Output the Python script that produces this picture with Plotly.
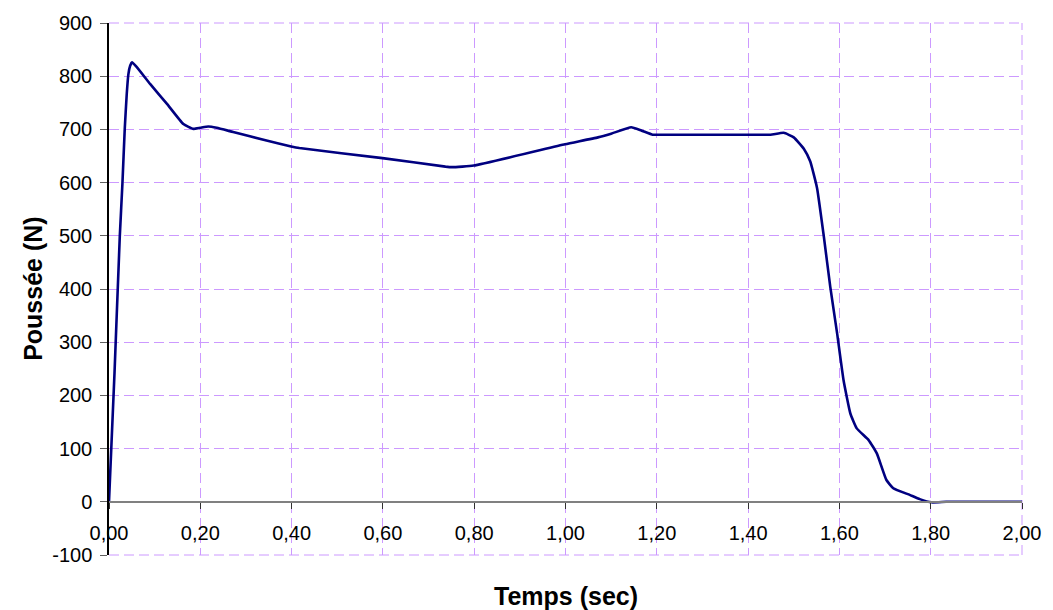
import plotly.graph_objects as go

# Data
temps = [0.000, 0.012, 0.0236, 0.0294, 0.0345, 0.0389, 0.0425, 0.0465, 0.0505, 0.060,
         0.0905, 0.127, 0.163, 0.185, 0.200, 0.2175, 0.236, 0.272, 0.345, 0.399,
         0.417, 0.599, 0.737, 0.752, 0.799, 0.999, 1.071, 1.100, 1.144, 1.166,
         1.191, 1.202, 1.300, 1.400, 1.449, 1.478, 1.500, 1.522, 1.536, 1.551,
         1.566, 1.580, 1.595, 1.609, 1.624, 1.638, 1.664, 1.682, 1.703, 1.718,
         1.754, 1.776, 1.802, 1.834, 1.900, 2.000]
poussee = [0, 241, 498, 598, 701, 767, 804, 820, 826, 818,
           785, 748, 710, 701, 703, 705.5, 703, 695, 679, 668,
           665, 646, 630, 629, 632, 672, 685, 692, 704, 698,
           690, 690, 690, 690, 690, 693.6, 685, 663.6, 640, 590,
           498, 404, 316.5, 229, 166, 138, 116, 91, 41, 25.6,
           13, 5, -1, 0, 0, 0]

x_tickvals = [0.0, 0.2, 0.4, 0.6, 0.8, 1.0, 1.2, 1.4, 1.6, 1.8, 2.0]
x_ticktext = ["0,00", "0,20", "0,40", "0,60", "0,80", "1,00", "1,20", "1,40", "1,60", "1,80", "2,00"]
y_tickvals = [-100, 0, 100, 200, 300, 400, 500, 600, 700, 800, 900]
y_ticktext = ["-100", "0", "100", "200", "300", "400", "500", "600", "700", "800", "900"]

x_title = "Temps (sec)"
y_title = "Poussée (N)"

FONT = "Arial, 'Liberation Sans', sans-serif"
GRID = "#CC99FF"
GRID_DASH = "10px,5px"

fig = go.Figure()
fig.add_trace(go.Scatter(
    x=temps, y=poussee, mode="lines",
    line=dict(color="#000080", width=2.6, shape="spline", smoothing=0.4),
    hoverinfo="skip", showlegend=False,
))

# dashed frame lines at top, bottom and right edge of the plot area (edge gridlines)
edge_line = dict(color=GRID, width=1, dash=GRID_DASH)
fig.add_shape(type="line", xref="x domain", yref="y domain", x0=0, x1=1, y0=1, y1=1,
              line=edge_line, layer="below")
fig.add_shape(type="line", xref="x domain", yref="y domain", x0=0, x1=1, y0=0, y1=0,
              line=edge_line, layer="below")
fig.add_shape(type="line", xref="x domain", yref="y domain", x0=1, x1=1, y0=0, y1=1,
              line=edge_line, layer="below")

fig.update_layout(
    width=1053, height=610,
    margin=dict(l=109, r=27, t=22, b=55),
    paper_bgcolor="white", plot_bgcolor="white",
    font=dict(family=FONT, size=20, color="black"),
    showlegend=False,
    xaxis=dict(
        range=[0, 2], tickvals=x_tickvals, ticktext=x_ticktext,
        anchor="free", position=0.1,
        showline=True, linecolor="#808080", linewidth=1.5,
        ticks="outside", ticklen=6, tickcolor="#303030", tickwidth=1,
        showgrid=True, gridcolor=GRID, griddash=GRID_DASH, gridwidth=1,
        zeroline=False, ticklabelstandoff=7,
        tickfont=dict(family=FONT, size=20, color="black"),
    ),
    yaxis=dict(
        range=[-100, 900], tickvals=y_tickvals, ticktext=y_ticktext,
        showline=True, linecolor="black", linewidth=1.5,
        ticks="outside", ticklen=7, tickcolor="#606060", tickwidth=1,
        showgrid=True, gridcolor=GRID, griddash=GRID_DASH, gridwidth=1,
        zeroline=False, ticklabelstandoff=4,
        tickfont=dict(family=FONT, size=20, color="black"),
    ),
    annotations=[
        dict(text="<b>%s</b>" % x_title, x=0.5, y=-0.077, xref="paper", yref="paper",
             xanchor="center", yanchor="middle", showarrow=False,
             font=dict(family=FONT, size=25, color="black")),
        dict(text="<b>%s</b>" % y_title, x=-0.0834, y=0.5, xref="paper", yref="paper",
             xanchor="center", yanchor="middle", showarrow=False, textangle=-90,
             font=dict(family=FONT, size=25, color="black")),
    ],
)

fig.write_html("out.html", config={"displayModeBar": False},
               post_script="document.body.style.margin='0';document.body.style.overflow='hidden';")
